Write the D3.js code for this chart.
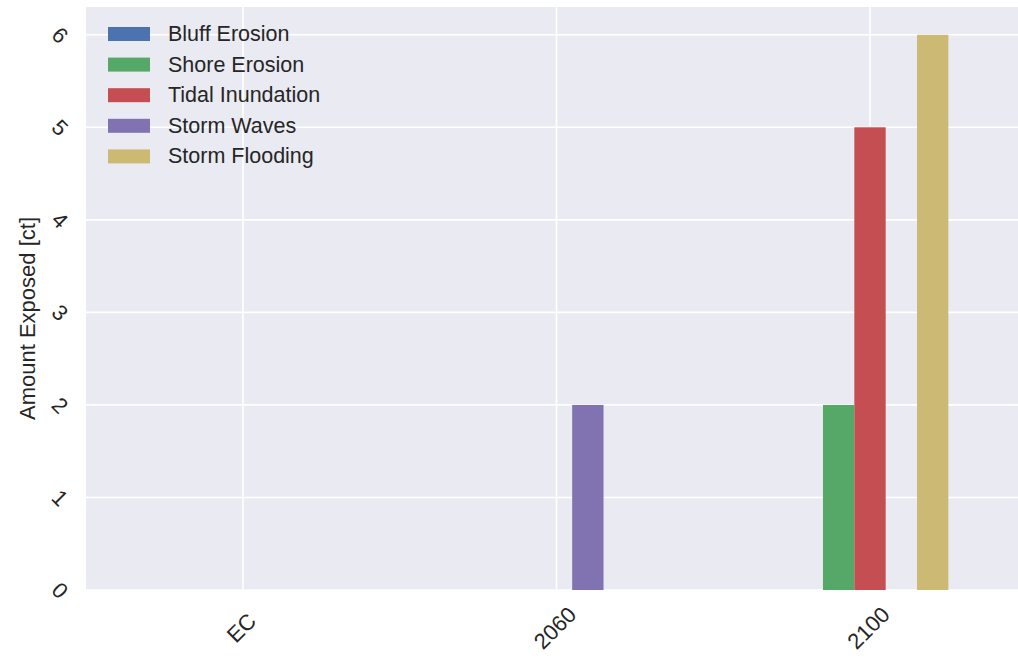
<!DOCTYPE html>
<html>
<head>
<meta charset="utf-8">
<script src="https://cdn.jsdelivr.net/npm/d3@7"></script>
<style>
html,body{margin:0;padding:0;background:#fff;}
svg{display:block;font-family:"Liberation Sans",Arial,sans-serif;}
</style>
</head>
<body>
<svg id="chart" width="1018" height="669"></svg>
<script>
const categories = ["EC", "2060", "2100"];
const seriesNames = ["Bluff Erosion", "Shore Erosion", "Tidal Inundation", "Storm Waves", "Storm Flooding"];
const bluffErosion = [0, 0, 0];
const shoreErosion = [0, 0, 2];
const tidalInundation = [0, 0, 5];
const stormWaves = [0, 2, 0];
const stormFlooding = [0, 0, 6];
const seriesValues = [bluffErosion, shoreErosion, tidalInundation, stormWaves, stormFlooding];
const yTicks = [0, 1, 2, 3, 4, 5, 6];
const colors = ["#4C72B0", "#55A868", "#C44E52", "#8172B2", "#CCB974"];

const svg = d3.select("#chart");
const plotLeft = 86, plotRight = 1027, plotTop = 7, plotBottom = 590;

const x = d3.scalePoint().domain(categories).range([243, 870]);
const step = x.step();
const inner = d3.scaleBand().domain(seriesNames).range([-0.25 * step, 0.25 * step]).padding(0);
const y = d3.scaleLinear().domain([0, 6.3]).range([plotBottom, plotTop]);

// background
svg.append("rect").attr("x", plotLeft).attr("y", plotTop)
  .attr("width", plotRight - plotLeft).attr("height", plotBottom - plotTop)
  .attr("fill", "#EAEAF2");

// gridlines
const grid = svg.append("g");
grid.selectAll("line.h").data(yTicks).join("line")
  .attr("x1", plotLeft).attr("x2", plotRight)
  .attr("y1", d => y(d)).attr("y2", d => y(d))
  .attr("stroke", "#fff").attr("stroke-width", 1.6);
grid.selectAll("line.v").data(categories).join("line")
  .attr("y1", plotTop).attr("y2", plotBottom)
  .attr("x1", d => x(d)).attr("x2", d => x(d))
  .attr("stroke", "#fff").attr("stroke-width", 1.6);

// bars
const bars = [];
seriesNames.forEach((s, si) => {
  categories.forEach((c, ci) => {
    bars.push({series: s, si, cat: c, value: seriesValues[si][ci]});
  });
});
svg.append("g").selectAll("rect").data(bars.filter(d => d.value > 0)).join("rect")
  .attr("x", d => x(d.cat) + inner(d.series))
  .attr("width", inner.bandwidth())
  .attr("y", d => y(d.value))
  .attr("height", d => y(0) - y(d.value))
  .attr("fill", d => colors[d.si]);

// y axis ticks (rotated)
const yAxis = d3.axisLeft(y).tickValues(yTicks).tickFormat(d3.format("d")).tickSize(0).tickPadding(0);
const yg = svg.append("g").call(yAxis);
yg.select(".domain").remove();
yg.selectAll(".tick text")
  .attr("x", 0).attr("dy", null)
  .attr("text-anchor", "middle")
  .attr("dominant-baseline", "central")
  .attr("transform", "translate(60,0) rotate(45)")
  .attr("font-size", 22)
  .attr("font-family", "Liberation Sans, Arial, sans-serif")
  .attr("fill", "#262626");

// x axis ticks (rotated)
const xAxis = d3.axisBottom(x).tickSize(0).tickPadding(0);
const xg = svg.append("g").attr("transform", `translate(0,${plotBottom})`).call(xAxis);
xg.select(".domain").remove();
xg.selectAll(".tick text")
  .attr("y", 0).attr("dy", null)
  .attr("text-anchor", "middle")
  .attr("dominant-baseline", "central")
  .attr("transform", "translate(-2,38) rotate(-45)")
  .attr("font-size", 22)
  .attr("font-family", "Liberation Sans, Arial, sans-serif")
  .attr("fill", "#262626");

// y label
svg.append("text")
  .attr("transform", `translate(27,${(plotTop + plotBottom) / 2 + 20}) rotate(-90)`)
  .attr("text-anchor", "middle")
  .attr("dominant-baseline", "central")
  .attr("font-size", 22)
  .attr("fill", "#262626")
  .text("Amount Exposed [ct]");

// legend
const legend = svg.append("g").attr("transform", "translate(108,34)");
const li = legend.selectAll("g").data(seriesNames).join("g")
  .attr("transform", (d, i) => `translate(0,${i * 30.6})`);
li.append("rect").attr("x", 0).attr("y", -7).attr("width", 42).attr("height", 14)
  .attr("fill", (d, i) => colors[i]);
li.append("text").attr("x", 60).attr("y", 0)
  .attr("dominant-baseline", "central")
  .attr("font-size", 21.5)
  .attr("fill", "#262626")
  .text(d => d);
</script>
</body>
</html>
